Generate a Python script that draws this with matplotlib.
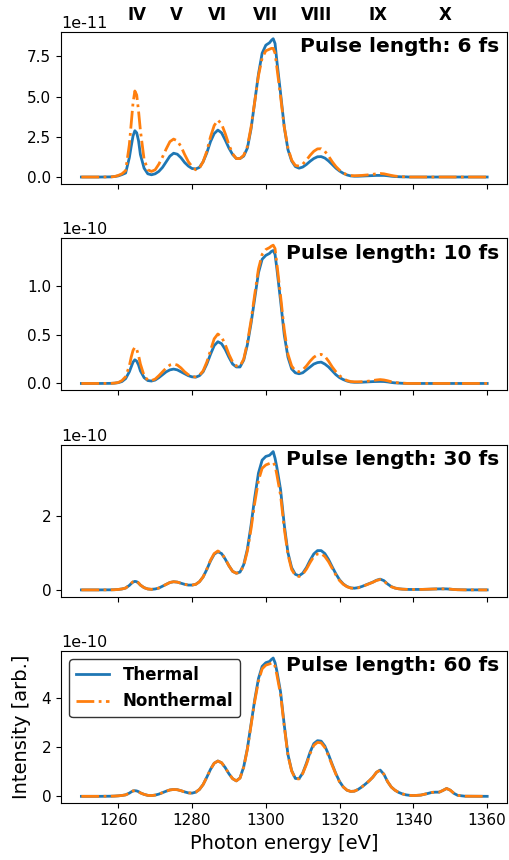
import numpy as np
import matplotlib
matplotlib.use("Agg")
import matplotlib.pyplot as plt
import matplotlib.transforms as mtransforms

# photon energy grid [eV] (denser around the narrow peaks)
energy = [1250, 1255, 1258, 1259, 1260, 1261, 1262, 1263, 1263.5, 1264,
          1264.5, 1265, 1265.5, 1266, 1267, 1268, 1269, 1270, 1271, 1272,
          1273, 1274, 1275, 1276, 1277, 1278, 1279, 1280, 1281, 1282,
          1283, 1284, 1285, 1286, 1287, 1288, 1289, 1290, 1291, 1292,
          1293, 1294, 1295, 1296, 1297, 1298, 1299, 1300, 1301, 1301.5,
          1302, 1302.5, 1303, 1304, 1305, 1306, 1307, 1308, 1309, 1310,
          1311, 1312, 1313, 1314, 1315, 1316, 1317, 1318, 1319, 1320,
          1321, 1322, 1323, 1324, 1325, 1326, 1327, 1328, 1329, 1330,
          1331, 1332, 1333, 1334, 1335, 1336, 1337, 1338, 1339, 1340,
          1342, 1344, 1345, 1346, 1347, 1348, 1349, 1350, 1351, 1352,
          1354, 1360]

# 6 fs, units of 1e-11
thermal_6 = [0, 0, 0.01, 0.03, 0.07, 0.15, 0.25, 1.2, 1.9, 2.55,
             2.88, 2.75, 2.25, 1.4, 0.55, 0.2, 0.14, 0.2, 0.35, 0.6,
             0.95, 1.3, 1.48, 1.42, 1.2, 0.9, 0.68, 0.53, 0.5, 0.6,
             0.95, 1.5, 2.2, 2.7, 2.92, 2.75, 2.3, 1.8, 1.4, 1.15,
             1.15, 1.3, 1.8, 3.0, 4.7, 6.4, 7.7, 8.2, 8.35, 8.5,
             8.6, 8.3, 7.2, 5.2, 3.1, 1.7, 1.0, 0.65, 0.55, 0.62,
             0.78, 0.98, 1.15, 1.26, 1.27, 1.18, 1.0, 0.78, 0.55, 0.37,
             0.23, 0.13, 0.07, 0.05, 0.05, 0.06, 0.07, 0.08, 0.09, 0.1,
             0.1, 0.1, 0.08, 0.05, 0.03, 0.02, 0.01, 0.01, 0, 0,
             0, 0, 0, 0, 0, 0, 0, 0, 0, 0,
             0, 0]
nonthermal_6 = [0, 0, 0.01, 0.03, 0.1, 0.2, 0.4, 2.0, 3.3, 4.6,
                5.35, 5.1, 4.1, 2.9, 1.1, 0.45, 0.35, 0.45, 0.8, 1.25,
                1.75, 2.2, 2.36, 2.25, 1.9, 1.4, 0.95, 0.65, 0.45, 0.55,
                0.95, 1.6, 2.5, 3.2, 3.54, 3.3, 2.7, 2.0, 1.45, 1.15,
                1.15, 1.35, 1.9, 3.1, 4.7, 6.3, 7.4, 7.85, 7.95, 8.0,
                8.0, 7.7, 6.8, 5.0, 3.1, 1.8, 1.05, 0.72, 0.68, 0.8,
                1.05, 1.35, 1.6, 1.75, 1.76, 1.6, 1.3, 0.95, 0.65, 0.42,
                0.25, 0.14, 0.09, 0.08, 0.09, 0.1, 0.12, 0.14, 0.17, 0.2,
                0.22, 0.2, 0.15, 0.1, 0.06, 0.03, 0.02, 0.01, 0, 0,
                0, 0, 0, 0, 0, 0, 0, 0, 0, 0,
                0, 0]

# 10 fs, units of 1e-10
thermal_10 = [0, 0, 0.001, 0.003, 0.008, 0.02, 0.05, 0.12, 0.17, 0.22,
              0.244, 0.23, 0.19, 0.13, 0.06, 0.03, 0.025, 0.035, 0.06, 0.09,
              0.12, 0.14, 0.148, 0.14, 0.12, 0.1, 0.08, 0.068, 0.065, 0.08,
              0.12, 0.2, 0.3, 0.39, 0.43, 0.41, 0.35, 0.27, 0.2, 0.17,
              0.17, 0.24, 0.4, 0.62, 0.88, 1.14, 1.28, 1.32, 1.34, 1.36,
              1.37, 1.33, 1.18, 0.85, 0.5, 0.27, 0.15, 0.11, 0.1, 0.11,
              0.14, 0.17, 0.2, 0.215, 0.22, 0.2, 0.17, 0.13, 0.09, 0.06,
              0.04, 0.025, 0.015, 0.012, 0.012, 0.013, 0.015, 0.017, 0.019, 0.02,
              0.021, 0.02, 0.016, 0.01, 0.006, 0.004, 0.002, 0.001, 0, 0,
              0, 0, 0, 0, 0, 0, 0, 0, 0, 0,
              0, 0]
nonthermal_10 = [0, 0, 0.001, 0.004, 0.01, 0.03, 0.07, 0.18, 0.27, 0.34,
                 0.374, 0.35, 0.29, 0.2, 0.08, 0.035, 0.03, 0.045, 0.08, 0.12,
                 0.16, 0.19, 0.2, 0.19, 0.16, 0.12, 0.09, 0.07, 0.068, 0.085,
                 0.13, 0.22, 0.34, 0.46, 0.51, 0.48, 0.4, 0.3, 0.22, 0.18,
                 0.18, 0.25, 0.42, 0.65, 0.92, 1.18, 1.33, 1.38, 1.4, 1.415,
                 1.425, 1.39, 1.23, 0.9, 0.55, 0.3, 0.18, 0.13, 0.12, 0.14,
                 0.18, 0.23, 0.27, 0.295, 0.3, 0.28, 0.23, 0.17, 0.12, 0.08,
                 0.05, 0.03, 0.02, 0.017, 0.017, 0.018, 0.02, 0.025, 0.03, 0.036,
                 0.04, 0.036, 0.028, 0.018, 0.01, 0.006, 0.003, 0.001, 0, 0,
                 0, 0, 0, 0, 0, 0, 0, 0, 0, 0,
                 0, 0]

# 30 fs, units of 1e-10
thermal_30 = [0, 0, 0.002, 0.005, 0.012, 0.025, 0.05, 0.12, 0.17, 0.21,
              0.23, 0.22, 0.18, 0.13, 0.06, 0.025, 0.015, 0.025, 0.05, 0.1,
              0.15, 0.2, 0.22, 0.21, 0.18, 0.15, 0.13, 0.13, 0.15, 0.22,
              0.35, 0.55, 0.78, 0.96, 1.03, 0.98, 0.83, 0.65, 0.5, 0.45,
              0.48, 0.68, 1.1, 1.75, 2.5, 3.15, 3.5, 3.6, 3.63, 3.68,
              3.73, 3.55, 3.3, 2.7, 1.75, 1.0, 0.6, 0.42, 0.38, 0.45,
              0.6, 0.8, 0.97, 1.06, 1.06, 0.98, 0.82, 0.62, 0.43, 0.27,
              0.16, 0.09, 0.055, 0.045, 0.06, 0.09, 0.13, 0.17, 0.21, 0.26,
              0.29, 0.25, 0.16, 0.09, 0.05, 0.03, 0.02, 0.015, 0.012, 0.012,
              0.012, 0.018, 0.022, 0.025, 0.027, 0.028, 0.027, 0.02, 0.01, 0.005,
              0.001, 0]
nonthermal_30 = [0, 0, 0.002, 0.005, 0.012, 0.025, 0.05, 0.13, 0.18, 0.22,
                 0.24, 0.23, 0.19, 0.13, 0.06, 0.025, 0.015, 0.025, 0.05, 0.1,
                 0.15, 0.2, 0.22, 0.21, 0.18, 0.15, 0.13, 0.13, 0.15, 0.22,
                 0.35, 0.56, 0.8, 0.98, 1.05, 0.99, 0.84, 0.65, 0.5, 0.45,
                 0.47, 0.65, 1.05, 1.65, 2.35, 2.95, 3.28, 3.37, 3.41, 3.43,
                 3.44, 3.35, 3.1, 2.55, 1.65, 0.95, 0.55, 0.39, 0.36, 0.42,
                 0.56, 0.74, 0.9, 0.97, 0.98, 0.9, 0.76, 0.58, 0.4, 0.25,
                 0.15, 0.085, 0.05, 0.04, 0.055, 0.085, 0.125, 0.165, 0.205, 0.255,
                 0.28, 0.24, 0.15, 0.085, 0.05, 0.03, 0.02, 0.015, 0.012, 0.012,
                 0.012, 0.018, 0.022, 0.025, 0.027, 0.028, 0.027, 0.02, 0.01, 0.005,
                 0.001, 0]

# 60 fs, units of 1e-10
thermal_60 = [0, 0, 0.005, 0.01, 0.02, 0.035, 0.06, 0.13, 0.18, 0.22,
              0.23, 0.22, 0.19, 0.14, 0.08, 0.04, 0.03, 0.05, 0.09, 0.15,
              0.21, 0.26, 0.28, 0.27, 0.23, 0.18, 0.14, 0.13, 0.17, 0.28,
              0.48, 0.78, 1.1, 1.35, 1.44, 1.37, 1.17, 0.92, 0.72, 0.63,
              0.75, 1.2, 1.95, 2.95, 3.95, 4.8, 5.3, 5.45, 5.5, 5.58,
              5.64, 5.45, 5.1, 4.25, 2.9, 1.7, 1.05, 0.73, 0.72, 0.95,
              1.35, 1.8, 2.15, 2.27, 2.25, 2.05, 1.7, 1.3, 0.92, 0.6,
              0.38, 0.25, 0.2, 0.21, 0.28, 0.38, 0.5, 0.63, 0.78, 0.98,
              1.07, 0.9, 0.6, 0.38, 0.25, 0.16, 0.1, 0.06, 0.04, 0.03,
              0.05, 0.12, 0.16, 0.17, 0.17, 0.24, 0.32, 0.25, 0.12, 0.04,
              0.005, 0]
nonthermal_60 = [0, 0, 0.005, 0.01, 0.02, 0.035, 0.06, 0.13, 0.18, 0.22,
                 0.23, 0.22, 0.19, 0.14, 0.08, 0.04, 0.03, 0.05, 0.09, 0.15,
                 0.21, 0.26, 0.28, 0.27, 0.23, 0.18, 0.14, 0.13, 0.17, 0.28,
                 0.48, 0.78, 1.1, 1.35, 1.44, 1.37, 1.17, 0.92, 0.72, 0.63,
                 0.74, 1.18, 1.92, 2.9, 3.88, 4.7, 5.2, 5.35, 5.4, 5.43,
                 5.45, 5.3, 4.95, 4.15, 2.85, 1.67, 1.03, 0.72, 0.71, 0.93,
                 1.3, 1.74, 2.08, 2.2, 2.18, 1.99, 1.65, 1.26, 0.9, 0.58,
                 0.38, 0.25, 0.2, 0.21, 0.28, 0.38, 0.5, 0.63, 0.78, 0.98,
                 1.07, 0.9, 0.6, 0.38, 0.25, 0.16, 0.1, 0.06, 0.04, 0.03,
                 0.05, 0.12, 0.16, 0.17, 0.17, 0.24, 0.32, 0.25, 0.12, 0.04,
                 0.005, 0]

pulse_lengths = [6, 10, 30, 60]
scales = [1e-11, 1e-10, 1e-10, 1e-10]
yticks = [[0, 2.5, 5.0, 7.5], [0, 0.5, 1.0], [0, 2], [0, 2, 4]]
xticks = [1260, 1280, 1300, 1320, 1340, 1360]
thermal = [thermal_6, thermal_10, thermal_30, thermal_60]
nonthermal = [nonthermal_6, nonthermal_10, nonthermal_30, nonthermal_60]

line_labels = ["IV", "V", "VI", "VII", "VIII", "IX", "X"]
line_pos = [1265.2, 1275.7, 1287.0, 1300.0, 1313.7, 1330.5, 1348.6]

plt.rcParams["font.size"] = 11
plt.rcParams["axes.unicode_minus"] = False

fig, axes = plt.subplots(4, 1, sharex=True, figsize=(5.09, 8.6), dpi=100)
fig.subplots_adjust(left=0.12, right=0.997, top=0.963, bottom=0.066, hspace=0.357)

E = np.array(energy)
for i, ax in enumerate(axes):
    th = np.array(thermal[i]) * scales[i]
    nt = np.array(nonthermal[i]) * scales[i]
    ax.plot(E, th, color="C0", lw=2, ls="-", label="Thermal")
    ax.plot(E, nt, color="C1", lw=2, ls="-.", label="Nonthermal")
    ax.set_yticks(np.array(yticks[i]) * scales[i])
    ax.text(0.982, 0.965, "Pulse length: %d fs" % pulse_lengths[i],
            transform=ax.transAxes, ha="right", va="top",
            fontsize=14.5, fontweight="bold")
    ax.yaxis.get_offset_text().set_fontsize(11.5)

axes[3].set_xticks(xticks)

trans = mtransforms.blended_transform_factory(axes[0].transData, axes[0].transAxes)
for lab, pos in zip(line_labels, line_pos):
    axes[0].text(pos, 1.11, lab, transform=trans, ha="center", va="center",
                 fontsize=12, fontweight="bold")

leg = axes[3].legend(loc="upper left", prop={"weight": "bold", "size": 12},
                     edgecolor="k")
axes[3].set_ylabel("Intensity [arb.]", fontsize=14, labelpad=8)
axes[3].set_xlabel("Photon energy [eV]", fontsize=14)

fig.savefig("out.png", dpi=100)
